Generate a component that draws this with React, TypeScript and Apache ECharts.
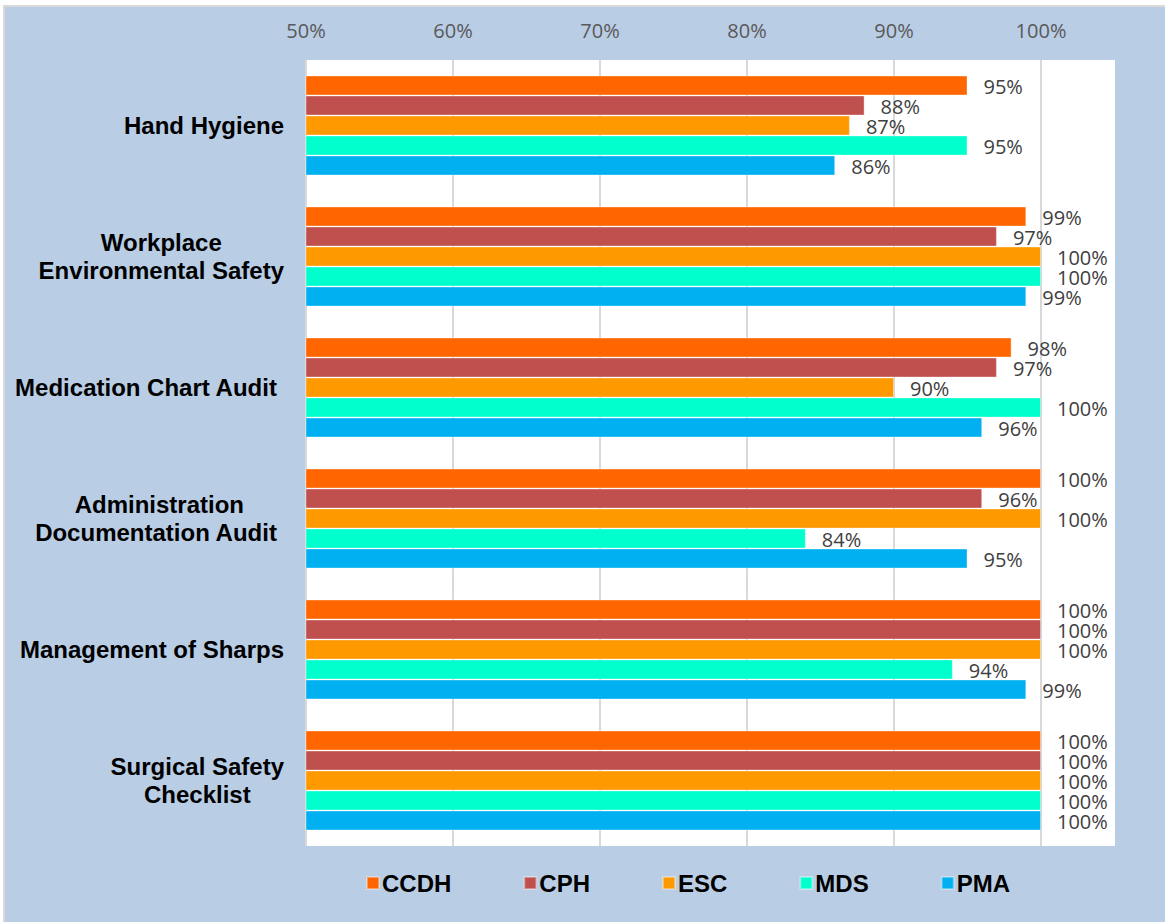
import React, { useEffect, useRef } from "react";
import * as echarts from "echarts";

const categories = [
  "Hand Hygiene",
  "Workplace\nEnvironmental Safety",
  "Medication Chart Audit ",
  "Administration\nDocumentation Audit ",
  "Management of Sharps",
  "Surgical Safety\nChecklist",
];
const seriesNames = ["CCDH", "CPH", "ESC", "MDS", "PMA"];
const seriesColors = ["#FF6600", "#C0504D", "#FF9900", "#00FFCC", "#00B0F0"];
const ccdh = [95, 99, 98, 100, 100, 100];
const cph = [88, 97, 97, 96, 100, 100];
const esc = [87, 100, 90, 100, 100, 100];
const mds = [95, 100, 100, 84, 94, 100];
const pma = [86, 99, 96, 95, 99, 100];
const seriesValues = [ccdh, cph, esc, mds, pma];
const axisMin = 50;
const axisMax = 100;
const axisStep = 10;

export default function App() {
  const ref = useRef<HTMLDivElement>(null);
  useEffect(() => {
    if (!ref.current) return;
    const chart = echarts.init(ref.current, null, { renderer: "svg" });
    chart.setOption({
      animation: false,
      backgroundColor: "#FFFFFF",
      graphic: [
        {
          type: "rect",
          z: -10,
          shape: { x: 4, y: 6, width: 1170, height: 920 },
          style: { fill: "#B9CDE5", stroke: "#D9D9D9", lineWidth: 2 },
        },
        {
          type: "rect",
          z: -9,
          shape: { x: 306, y: 60, width: 809, height: 786 },
          style: { fill: "#FFFFFF" },
        },
      ],
      grid: { left: 306, right: 124, top: 60, bottom: 76, containLabel: false },
      legend: {
        data: seriesNames,
        left: 361,
        top: 866,
        itemWidth: 12,
        itemHeight: 12,
        itemGap: 72,
        icon: "rect",
        textStyle: {
          fontFamily: "Liberation Sans, Arial, sans-serif",
          fontWeight: "bold",
          fontSize: 24,
          color: "#000000",
          padding: [0, 0, 0, -2],
        },
      },
      xAxis: {
        type: "value",
        position: "top",
        min: axisMin,
        max: axisMax,
        interval: axisStep,
        axisLine: { show: false },
        axisTick: { show: false },
        splitLine: { show: true, lineStyle: { color: "#D9D9D9", width: 2 } },
        axisLabel: {
          formatter: "{value}%",
          color: "#595959",
          fontFamily: "Open Sans, sans-serif",
          fontSize: 20,
          margin: 20,
        },
      },
      yAxis: {
        type: "category",
        data: categories,
        inverse: true,
        axisLine: { show: false },
        axisTick: { show: false },
        axisLabel: {
          align: "right",
          margin: 22,
          formatter: (v: string) =>
            v
              .split("\n")
              .map((l) => `{c|${l}}`)
              .join("\n"),
          rich: {
            c: {
              align: "center",
              fontFamily: "Liberation Sans, Arial, sans-serif",
              fontWeight: "bold",
              fontSize: 24,
              lineHeight: 28,
              color: "#000000",
            },
          },
        },
      },
      series: seriesNames.map((name, i) => ({
        name,
        type: "bar",
        data: seriesValues[i],
        barWidth: 20,
        barGap: "0%",
        itemStyle: {
          color: seriesColors[i],
          borderColor: "rgba(255,255,255,0.35)",
          borderWidth: 1,
        },
        label: {
          show: true,
          position: "right",
          distance: 16,
          offset: [0, 1],
          formatter: "{c}%",
          color: "#404040",
          fontFamily: "Open Sans, sans-serif",
          fontSize: 20,
        },
      })),
    });
    return () => chart.dispose();
  }, []);
  return (
    <div
      ref={ref}
      style={{ position: "absolute", left: 0, top: 0, width: 1165, height: 922 }}
    />
  );
}
